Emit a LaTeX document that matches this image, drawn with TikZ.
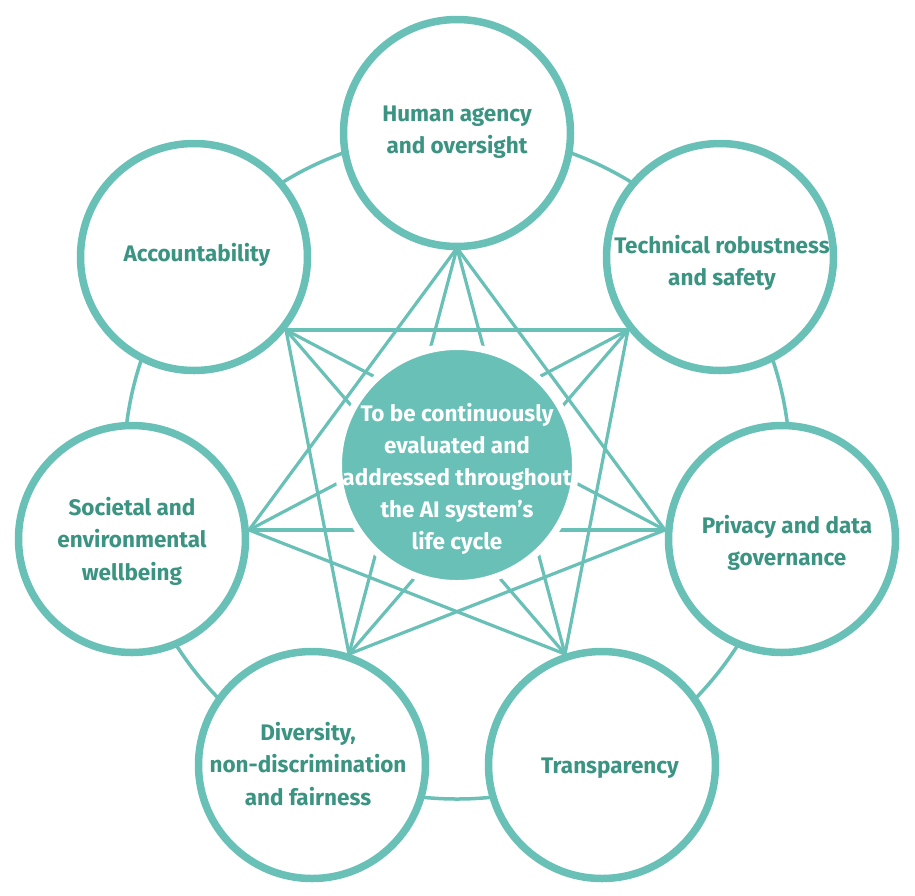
\documentclass[tikz,border=0pt]{standalone}
\usepackage{fontspec}
\setmainfont{Fira Sans}
\definecolor{tealline}{HTML}{68C0B6}
\definecolor{tealtext}{HTML}{3B9482}
\begin{document}
\begin{tikzpicture}[x=1pt,y=-1pt,
  ring/.style={draw=tealline,line width=3.5pt},
  link/.style={draw=tealline,line width=3.2pt},
  outer/.style={circle,draw=tealline,fill=white,line width=7.5pt,minimum size=227pt,inner sep=0pt},
  core/.style={circle,draw=white,fill=tealline,line width=7pt,minimum size=237pt,inner sep=0pt},
  lbl/.style={text=tealtext,font=\fontsize{22.5}{32.5}\selectfont\bfseries,align=center,inner sep=0pt},
  clbl/.style={text=white,font=\fontsize{22.5}{32}\selectfont\bfseries,align=center,inner sep=0pt}]
\useasboundingbox (0,0) rectangle (915,895);
% hub points
\coordinate (hH) at (457,248);
\coordinate (hT) at (628,330);
\coordinate (hP) at (665,530);
\coordinate (hR) at (565,654);
\coordinate (hD) at (349,654);
\coordinate (hS) at (249,530);
\coordinate (hA) at (286,330);
% ring
\draw[ring] (457,466) circle[radius=333pt];
% heptagram links
\foreach \a/\b in {hH/hP,hT/hR,hP/hD,hR/hS,hD/hA,hS/hH,hA/hT,
                   hH/hR,hT/hD,hP/hS,hR/hA,hD/hH,hS/hT,hA/hP}
  \draw[link] (\a) -- (\b);
% central circle
\node[core] (centre) at (457,465) {};
\node[clbl] (centretext) at (457,479) {To be continuously\\evaluated and\\addressed throughout\\the AI system’s\\life cycle};
% outer circles
\node[outer] (human) at (457,133) {};
\node[outer] (tech) at (720,257) {};
\node[outer] (privacy) at (782,539) {};
\node[outer] (transp) at (602,765) {};
\node[outer] (divers) at (312,765) {};
\node[outer] (societal) at (132,539) {};
\node[outer] (account) at (194,257) {};
% labels
\node[lbl] (thuman) at (457,132) {Human agency\\and oversight};
\node[lbl] (ttech) at (722,263) {Technical robustness\\and safety};
\node[lbl] (tprivacy) at (787,543) {Privacy and data\\governance};
\node[lbl] (ttransp) at (610,768) {Transparency};
\node[lbl] (tdivers) at (308,764) {Diversity,\\non-discrimination\\and fairness};
\node[lbl] (tsocietal) at (132,541) {Societal and\\environmental\\wellbeing};
\node[lbl] (taccount) at (197,255) {Accountability};
\end{tikzpicture}
\end{document}
